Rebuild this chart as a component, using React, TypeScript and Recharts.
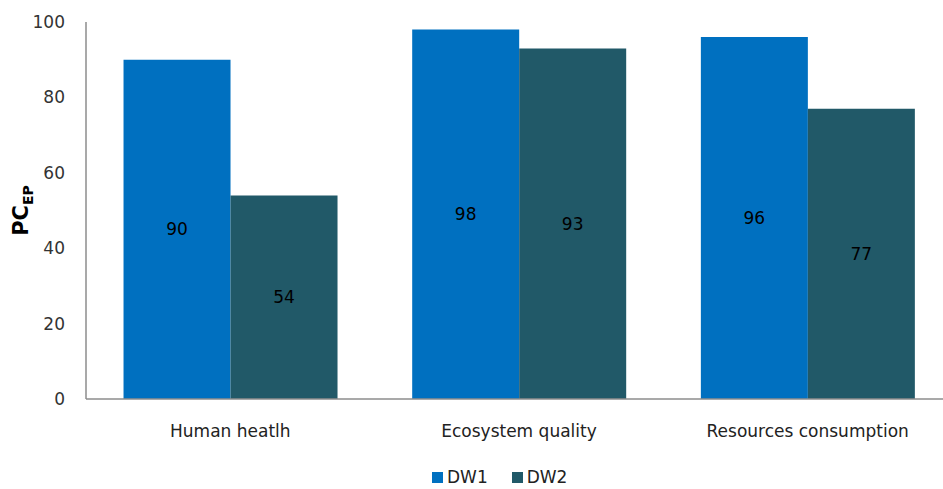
import * as React from "react";
import { Bar, BarChart, LabelList, Legend, XAxis, YAxis } from "recharts";

const categories = ["Human heatlh", "Ecosystem quality", "Resources consumption"];
const dw1 = [90, 98, 96];
const dw2 = [54, 93, 77];
const yTicks = [0, 20, 40, 60, 80, 100];

const data = categories.map((name, i) => ({ name, DW1: dw1[i], DW2: dw2[i] }));

const FONT = "'DejaVu Sans', Verdana, sans-serif";
const BLUE = "#0070C0";
const TEAL = "#215968";

const YLabel = ({ viewBox }: any) => {
  const cx = 28;
  const cy = viewBox ? viewBox.y + viewBox.height / 2 : 230;
  return (
    <text
      transform={`translate(${cx},${cy}) rotate(-90)`}
      textAnchor="middle"
      fontFamily={FONT}
      fontWeight="bold"
      fontSize={21}
      fill="#000"
    >
      PC
      <tspan fontSize={14} dy={5}>EP</tspan>
    </text>
  );
};

const LegendContent = () => (
  <div style={{ display: "flex", alignItems: "center", fontFamily: FONT, fontSize: 17, color: "#222" }}>
    {[
      { label: "DW1", color: BLUE },
      { label: "DW2", color: TEAL },
    ].map((it) => (
      <div key={it.label} style={{ display: "flex", alignItems: "center", marginRight: 24 }}>
        <span style={{ width: 11, height: 11, background: it.color, display: "inline-block", marginRight: 4 }} />
        <span>{it.label}</span>
      </div>
    ))}
  </div>
);

export default function App() {
  return (
    <div style={{ position: "absolute", left: 0, top: 0, width: 943, height: 489, overflow: "hidden", background: "#fff" }}>
      <BarChart
        width={960}
        height={489}
        data={data}
        margin={{ top: 22, right: 8, left: 0, bottom: 0 }}
        barCategoryGap="13%"
        barGap={0}
      >
        <XAxis
          dataKey="name"
          axisLine={{ stroke: "#8c8c8c", strokeWidth: 1.5 }}
          tickLine={false}
          tickSize={0}
          tickMargin={26}
          height={70}
          tick={{ fontFamily: FONT, fontSize: 17, fill: "#222" }}
        />
        <YAxis
          width={86}
          domain={[0, 100]}
          ticks={yTicks}
          axisLine={{ stroke: "#8c8c8c", strokeWidth: 1.5 }}
          tickLine={false}
          tickSize={0}
          tickMargin={21}
          tick={{ fontFamily: FONT, fontSize: 17, fill: "#333" }}
          label={<YLabel />}
        />
        <Legend
          verticalAlign="bottom"
          content={<LegendContent />}
          wrapperStyle={{ position: "absolute", left: 432, top: 467, width: 200, bottom: "auto" }}
        />
        <Bar dataKey="DW1" fill={BLUE} isAnimationActive={false}>
          <LabelList dataKey="DW1" position="center" fill="#000" fontFamily={FONT} fontSize={17} />
        </Bar>
        <Bar dataKey="DW2" fill={TEAL} isAnimationActive={false}>
          <LabelList dataKey="DW2" position="center" fill="#000" fontFamily={FONT} fontSize={17} />
        </Bar>
      </BarChart>
    </div>
  );
}
